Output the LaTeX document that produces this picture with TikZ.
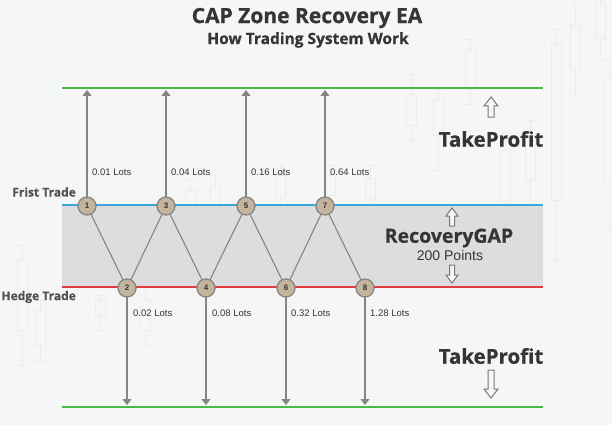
\documentclass[tikz,border=0pt]{standalone}
\usepackage{fontspec}
\setmainfont{Open Sans}[BoldFeatures={FakeBold=0.6}]
\newfontfamily\arialf{Liberation Sans}
\usetikzlibrary{arrows.meta}
\definecolor{bgc}{HTML}{F5F6F6}
\definecolor{candlec}{HTML}{EBEDED}
\definecolor{gapc}{HTML}{DCDDDD}
\definecolor{tpgreen}{HTML}{4DB84A}
\definecolor{bluel}{HTML}{3AA5DC}
\definecolor{redl}{HTML}{E2383F}
\definecolor{linec}{HTML}{858585}
\definecolor{ballc}{HTML}{C4B39D}
\definecolor{txtc}{HTML}{353535}
\newcommand{\mycandle}[5]{%
  \draw[candlec,line width=1pt] (#1,#2) -- (#1,#3);
  \draw[candlec,line width=1pt,fill=bgc] (#1-5,#4) rectangle (#1+5,#5);
  \draw[candlec,line width=1pt] (#1-5,#2) -- (#1+5,#2) (#1-5,#3) -- (#1+5,#3);}
\begin{document}
\begin{tikzpicture}[x=1pt,y=-1pt,
  ball/.style={circle,draw=linec,line width=1.3pt,fill=ballc,minimum size=18pt,inner sep=0pt,font=\arialf\fontsize{8}{8}\selectfont\bfseries,text=txtc},
  zig/.style={linec,line width=1.1pt},
  lotarrow/.style={linec,line width=1.1pt,-{Triangle[width=9pt,length=6pt]}},
  lot/.style={font=\arialf\fontsize{9.5}{11}\selectfont,text=txtc,anchor=west,inner sep=0pt},
  side/.style={font=\fontsize{12}{14}\selectfont\bfseries,text=txtc!85!white,inner sep=0pt},
  big/.style={font=\fontsize{20.5}{22}\selectfont\bfseries,text=txtc,inner sep=0pt},
  hollow/.style={draw=linec!90!black,line width=1pt,fill=bgc},
  tpline/.style={tpgreen,line width=2.5pt},
]
\fill[bgc] (0,0) rectangle (612,425);
\useasboundingbox (0,0) rectangle (612,425);
% faint background candlesticks
\mycandle{556}{30}{260}{45}{200}
\mycandle{575}{5}{95}{25}{70}
\mycandle{600}{0}{60}{5}{40}
\mycandle{609}{60}{230}{80}{180}
\mycandle{411}{75}{140}{95}{125}
\mycandle{438}{90}{170}{100}{135}
\mycandle{470}{40}{105}{50}{90}
\mycandle{530}{120}{200}{135}{180}
\mycandle{505}{140}{220}{150}{200}
\mycandle{22}{245}{365}{260}{330}
\mycandle{40}{300}{360}{310}{345}
\mycandle{100}{295}{330}{300}{315}
\mycandle{145}{280}{345}{300}{330}
\mycandle{190}{180}{220}{190}{210}
\mycandle{215}{175}{215}{185}{205}
\mycandle{280}{165}{205}{175}{198}
\mycandle{330}{165}{200}{175}{195}
\mycandle{370}{165}{200}{178}{198}
% title
\node[font=\fontsize{21}{24}\selectfont\bfseries,text=txtc] (title) at (307,18) {CAP Zone Recovery EA};
\node[font=\fontsize{15.5}{18}\selectfont\bfseries,text=txtc] (sub) at (308,40) {How Trading System Work};
% gap zone
\fill[gapc] (62,205) rectangle (543,287);
\draw[tpline] (62,88) -- (543,88);
\draw[tpline] (62,407) -- (543,407);
\draw[bluel,line width=1.8pt] (62,205) -- (543,205);
\draw[redl,line width=1.8pt] (62,287) -- (543,287);
% labels left
\node[side,anchor=east] (ft) at (76,192) {Frist Trade};
\node[side,anchor=east] (ht) at (76,297) {Hedge Trade};
% ball positions
\foreach \i/\x/\y in {1/87/206,2/127/288,3/166/206,4/206/288,5/246/206,6/286/288,7/325/206,8/365/288}{
  \coordinate (p\i) at (\x,\y);
}
% zigzag
\draw[zig] (p1) -- (p2) -- (p3) -- (p4) -- (p5) -- (p6) -- (p7) -- (p8);
% lot arrows
\foreach \i/\x in {1/87,3/166,5/246,7/325}{
  \coordinate (e\i) at (\x,90);
  \draw[lotarrow] (p\i) -- (e\i);
}
\foreach \i/\x in {2/127,4/206,6/286,8/365}{
  \coordinate (e\i) at (\x,405);
  \draw[lotarrow] (p\i) -- (e\i);
}
\foreach \i in {1,...,8}{
  \node[ball] (c\i) at (p\i) {\i};
}
\node[lot] (l1) at (92,172) {0.01 Lots};
\node[lot] (l3) at (171,172) {0.04 Lots};
\node[lot] (l5) at (251,172) {0.16 Lots};
\node[lot] (l7) at (330,172) {0.64 Lots};
\node[lot] (l2) at (133,313) {0.02 Lots};
\node[lot] (l4) at (212,313) {0.08 Lots};
\node[lot] (l6) at (291,313) {0.32 Lots};
\node[lot] (l8) at (370,313) {1.28 Lots};
% take profit labels
\node[big] (tp1) at (491,139) {TakeProfit};
\node[big] (tp2) at (491,356) {TakeProfit};
\node[big,font=\fontsize{19.5}{22}\selectfont\bfseries] (rg) at (449,238) {RecoveryGAP};
\node[font=\arialf\fontsize{14}{16}\selectfont,text=txtc] (pts) at (450,255) {200 Points};
% hollow arrows
\draw[hollow] (488,117) -- (488,106) -- (484,106) -- (491,97) -- (498,106) -- (494,106) -- (494,117) -- cycle;
\draw[hollow] (488,370) -- (488,389) -- (484,389) -- (491,398) -- (498,389) -- (494,389) -- (494,370) -- cycle;
\draw[hollow] (449.5,226) -- (449.5,216) -- (446,216) -- (452,208) -- (458,216) -- (454.5,216) -- (454.5,226) -- cycle;
\draw[hollow] (449.5,265) -- (449.5,275) -- (446,275) -- (452,283) -- (458,275) -- (454.5,275) -- (454.5,265) -- cycle;
\end{tikzpicture}
\end{document}
